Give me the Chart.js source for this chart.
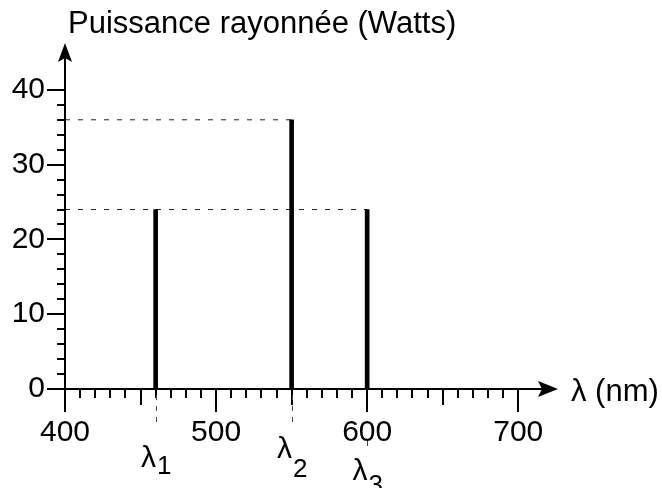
<!DOCTYPE html>
<html>
<head>
<meta charset="utf-8">
<script src="https://cdn.jsdelivr.net/npm/chart.js@4.4.1/dist/chart.umd.min.js"></script>
<style>
  html, body { margin: 0; padding: 0; background: #fff; }
</style>
</head>
<body>
<canvas id="chart" width="662" height="488"></canvas>
<script>
// data
const wavelengths = [460, 550, 600];      // nm
const powers = [24, 36, 24];              // Watts
const lambdaNames = ['1', '2', '3'];
const xTicks = [400, 500, 600, 700];
const yTicks = [0, 10, 20, 30, 40];
const xRange = [400, 725];
const yRange = [0, 46];

// dashed guides: from the y axis to the farthest peak at each height
const guides = [];
powers.forEach((p, i) => {
  const g = guides.find(g => g.y === p);
  if (g) g.x = Math.max(g.x, wavelengths[i]);
  else guides.push({ y: p, x: wavelengths[i] });
});

const FONT = '"Liberation Sans", Arial, sans-serif';

// label offsets below the axis for each lambda (baseline of λ, baseline of index, dash end)
const lambdaLayout = [
  { base: 467, sub: 474, dash: [395, 428] },
  { base: 458, sub: 477, dash: [395, 428] },
  { base: 480, sub: 493, dash: [441, 452] }
];

const axesPlugin = {
  id: 'axes',
  afterDraw(chart) {
    const { ctx, scales: { x, y } } = chart;
    const x0 = Math.round(x.getPixelForValue(xRange[0]));
    const y0 = Math.round(y.getPixelForValue(0));
    ctx.save();
    ctx.strokeStyle = '#000';
    ctx.fillStyle = '#000';
    ctx.lineWidth = 2;

    // axes
    ctx.beginPath();
    ctx.moveTo(x0, y0 + 23); ctx.lineTo(x0, 55);
    ctx.moveTo(x0, y0); ctx.lineTo(545, y0);
    ctx.stroke();

    // arrows
    ctx.beginPath();
    ctx.moveTo(x0, 43); ctx.lineTo(x0 + 7, 62); ctx.lineTo(x0, 58); ctx.lineTo(x0 - 7, 62);
    ctx.closePath(); ctx.fill();
    ctx.beginPath();
    ctx.moveTo(558, y0); ctx.lineTo(538, y0 - 8); ctx.lineTo(542, y0); ctx.lineTo(538, y0 + 8);
    ctx.closePath(); ctx.fill();

    // y ticks every 2
    for (let v = 0; v <= 40; v += 2) {
      const py = Math.round(y.getPixelForValue(v));
      const len = v % 10 === 0 ? 18 : 8;
      ctx.beginPath(); ctx.moveTo(x0 - len, py); ctx.lineTo(x0, py); ctx.stroke();
    }
    // x ticks every 10
    for (let v = 410; v <= 700; v += 10) {
      const px = Math.round(x.getPixelForValue(v));
      const len = v % 100 === 0 ? 23 : (v % 50 === 0 ? 16 : 9);
      ctx.beginPath(); ctx.moveTo(px, y0); ctx.lineTo(px, y0 + len); ctx.stroke();
    }

    // dashed markers under the peaks
    ctx.lineWidth = 1;
    ctx.strokeStyle = '#444';
    ctx.setLineDash([5, 6]);
    wavelengths.forEach((w, i) => {
      const px = Math.round(x.getPixelForValue(w)) + 0.5;
      const d = lambdaLayout[i].dash;
      ctx.beginPath(); ctx.moveTo(px, d[0]); ctx.lineTo(px, d[1]); ctx.stroke();
    });
    ctx.setLineDash([]);

    // lambda labels
    ctx.textBaseline = 'alphabetic';
    ctx.textAlign = 'left';
    wavelengths.forEach((w, i) => {
      const px = x.getPixelForValue(w);
      ctx.font = '30px ' + FONT;
      const lw = ctx.measureText('λ').width;
      ctx.font = '26px ' + FONT;
      const sw = ctx.measureText(lambdaNames[i]).width;
      const start = px - (lw + sw) / 2;
      ctx.font = '30px ' + FONT;
      ctx.fillText('λ', start, lambdaLayout[i].base);
      ctx.font = '26px ' + FONT;
      ctx.fillText(lambdaNames[i], start + lw + 1, lambdaLayout[i].sub);
    });

    // axis titles
    ctx.font = '31px ' + FONT;
    ctx.fillText('Puissance rayonnée (Watts)', 68, 33);
    ctx.font = '31px ' + FONT;
    ctx.fillText('λ (nm)', 571, 401);
    ctx.restore();
  }
};

new Chart(document.getElementById('chart'), {
  type: 'bar',
  data: {
    datasets: [
      {
        type: 'bar',
        data: wavelengths.map((w, i) => ({ x: w, y: powers[i] })),
        backgroundColor: '#000',
        borderWidth: 0,
        barThickness: 4
      },
      ...guides.map(g => ({
        type: 'line',
        data: [{ x: xRange[0], y: g.y }, { x: g.x, y: g.y }],
        borderColor: '#222',
        borderWidth: 1,
        borderDash: [5, 8],
        pointRadius: 0,
        fill: false
      }))
    ]
  },
  options: {
    responsive: false,
    animation: false,
    layout: { padding: { top: 45, right: 106, left: 0, bottom: 0 } },
    plugins: { legend: { display: false }, tooltip: { enabled: false }, title: { display: false } },
    scales: {
      x: {
        type: 'linear',
        offset: false,
        min: xRange[0],
        max: xRange[1],
        grid: { display: false, drawTicks: false, offset: false },
        border: { display: false },
        afterBuildTicks: s => { s.ticks = xTicks.map(v => ({ value: v })); },
        afterFit: s => { s.height = 99; },
        ticks: { autoSkip: false, maxRotation: 0, padding: 26, color: '#000', font: { family: FONT, size: 30 } }
      },
      y: {
        min: yRange[0],
        max: yRange[1],
        grid: { display: false, drawTicks: false },
        border: { display: false },
        afterBuildTicks: s => { s.ticks = yTicks.map(v => ({ value: v })); },
        afterFit: s => { s.width = 65; },
        ticks: { padding: 20, color: '#000', font: { family: FONT, size: 30 } }
      }
    }
  },
  plugins: [axesPlugin]
});
</script>
</body>
</html>
